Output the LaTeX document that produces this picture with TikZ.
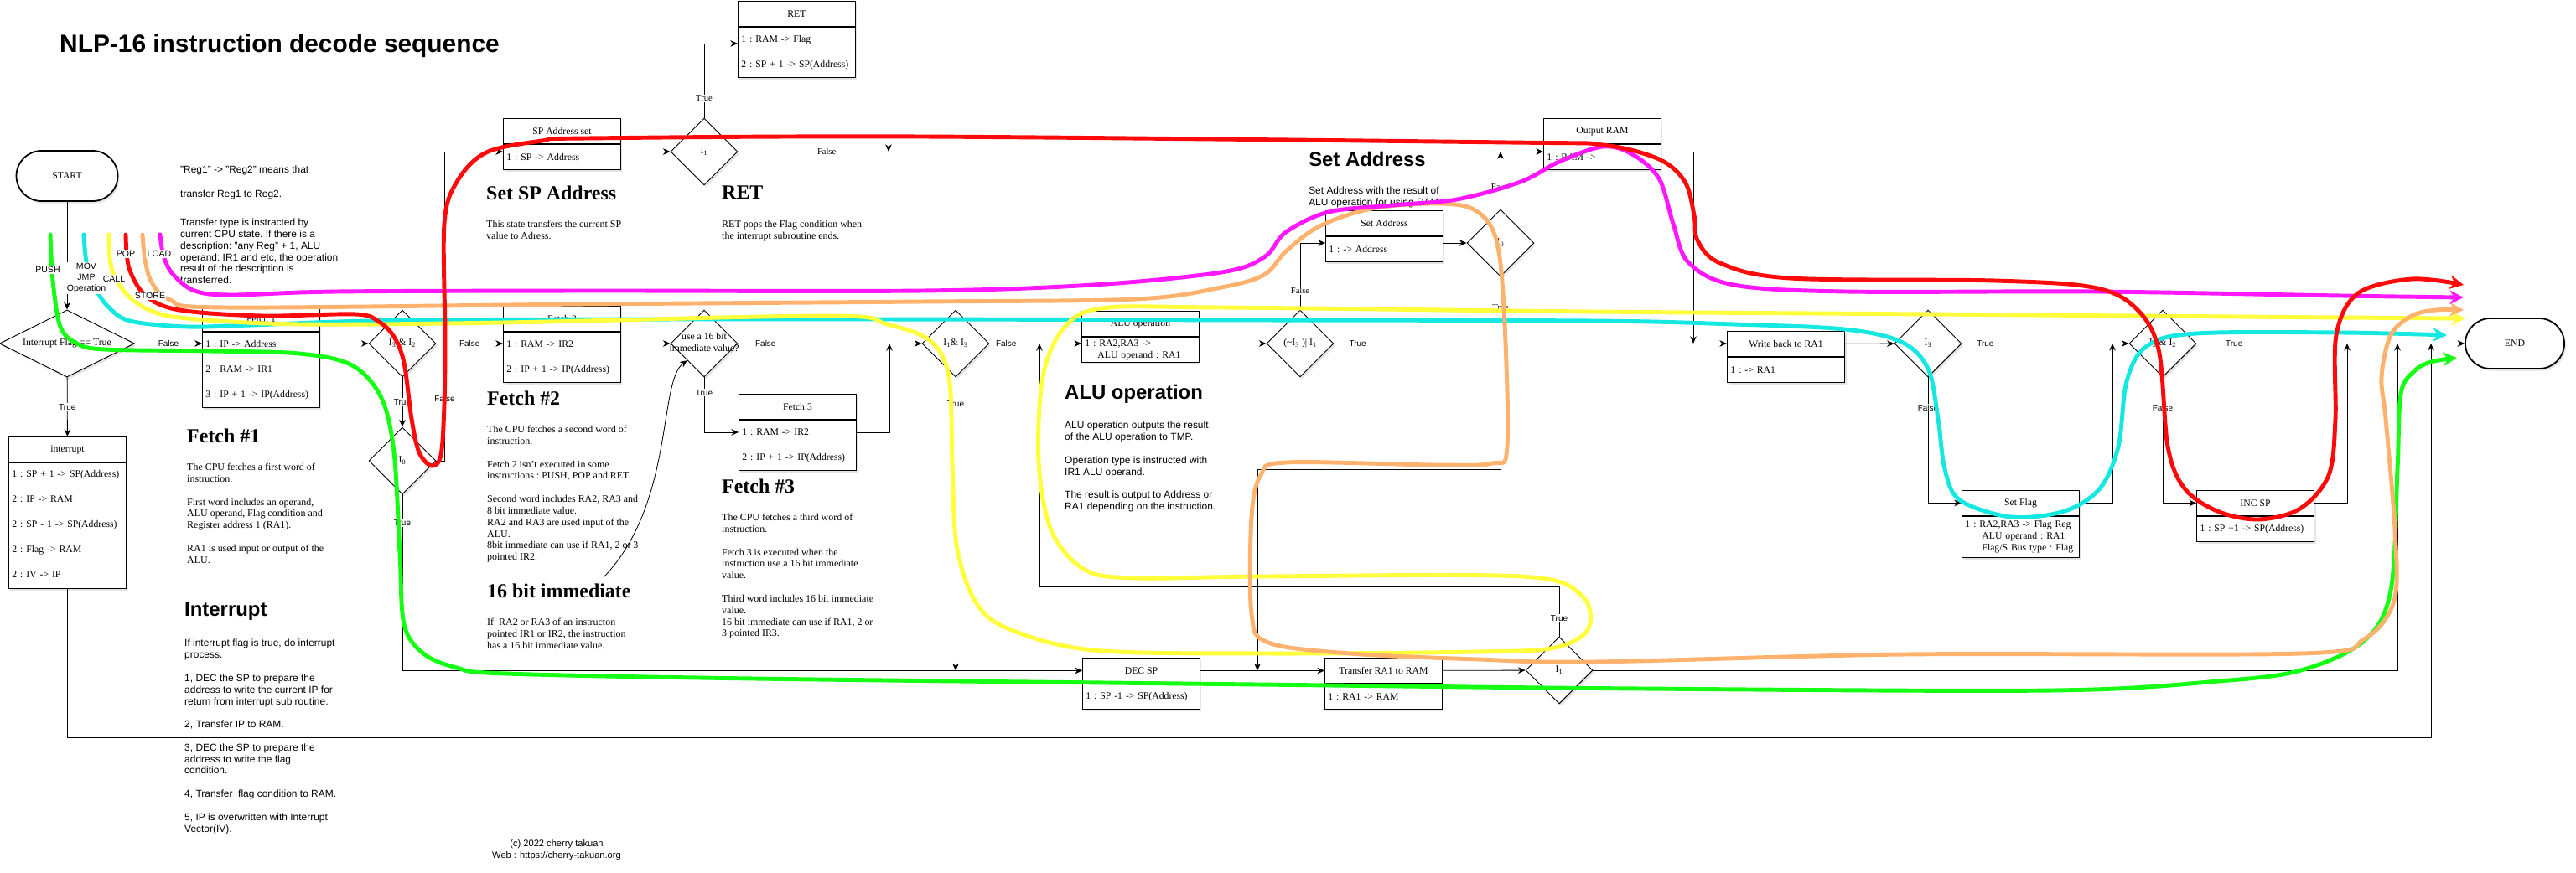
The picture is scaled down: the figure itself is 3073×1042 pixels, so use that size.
\documentclass[tikz,border=0pt]{standalone}
\usepackage{fontspec}
\setmainfont{Liberation Serif}
\setsansfont{Liberation Sans}
\usetikzlibrary{arrows.meta,positioning,calc,shapes.geometric,shadows}
\definecolor{pushc}{HTML}{14FF14}
\definecolor{movc}{HTML}{14E8E0}
\definecolor{callc}{HTML}{FFFF3C}
\definecolor{popc}{HTML}{FF0A0A}
\definecolor{storec}{HTML}{FFB26E}
\definecolor{loadc}{HTML}{FF18FF}
\newcommand{\boxfont}{\fontsize{10}{12}\selectfont\frenchspacing}
\newcommand{\rowfont}{\fontsize{10}{25.6}\selectfont\frenchspacing}
\newcommand{\bodyfont}{\fontsize{10.2}{11.8}\selectfont\frenchspacing}
\newcommand{\headfont}{\fontsize{20.4}{24}\selectfont\bfseries}
\newcommand{\dt}[1]{\makebox[0pt]{#1}}
\newcommand{\sub}[1]{\textsubscript{#1}}
\tikzset{
  shad/.style={drop shadow={opacity=0.22, shadow xshift=0.06cm, shadow yshift=-0.08cm}},
  lanehead/.style={draw, fill=white, line width=0.8pt, minimum width=4.2cm,
                   minimum height=0.9cm, inner sep=0pt, font=\boxfont, shad},
  lanebody/.style={draw, fill=white, line width=0.8pt, text width=3.96cm,
                   minimum height=#1, inner xsep=0.12cm, inner ysep=0pt,
                   align=left, font=\rowfont, shad},
  lanebody/.default=0.9cm,
  dia/.style={diamond, draw, fill=white, line width=0.8pt, inner sep=0pt,
              minimum width=2.4cm, minimum height=2.4cm, font=\boxfont, shad},
  term/.style={draw, fill=white, line width=1.5pt, rounded corners=0.9cm,
               minimum height=1.8cm, font=\boxfont, shad},
  arr/.style={-{Stealth[length=2.6mm, width=2.3mm]}, line width=0.7pt},
  lbl/.style={fill=white, inner sep=1pt, font=\sffamily\fontsize{8.5}{10}\selectfont},
  slbl/.style={fill=white, inner sep=1pt, font=\fontsize{9}{10}\selectfont},
  notetxt/.style={anchor=north west, inner sep=0pt, align=left, font=\bodyfont},
  snotetxt/.style={notetxt, font=\sffamily\bodyfont},
  headtxt/.style={anchor=west, inner sep=0pt, font=\headfont},
  sheadtxt/.style={headtxt, font=\sffamily\headfont},
  hlpath/.style={line width=4.2pt, line cap=round, line join=round,
                 -{Stealth[length=5mm, width=5mm]}},
  clbl/.style={fill=white, inner sep=1pt, align=center,
               font=\sffamily\fontsize{9}{11}\selectfont}}

\begin{document}
\begin{tikzpicture}[x=0.03cm, y=-0.03cm]
\useasboundingbox (0,0) rectangle (3073,1042);

% title and notes
\node[anchor=west, inner sep=0pt, font=\sffamily\bfseries\fontsize{25.5}{30}\selectfont]
  (title) at (71,55) {NLP-16 instruction decode sequence};
\node[snotetxt] (regnote) at (215,198) {"Reg1" -> "Reg2" means that\\[12.5pt]
  transfer Reg1 to Reg2.\\[17.5pt]
  Transfer type is instracted by\\
  current CPU state. If there is a\\
  description: "any Reg" + 1, ALU\\
  operand: IR1 and etc, the operation\\
  result of the description is\\
  transferred.};

\node[headtxt] (hSetSP) at (580,230) {Set SP Address};
\node[notetxt] (tSetSP) at (580,263) {This state transfers the current SP\\value to Adress.};
\node[headtxt] (hRet) at (861,230) {RET};
\node[notetxt] (tRet) at (861,263) {RET pops the Flag condition when\\the interrupt subroutine ends.};

\node[headtxt] (hFetA) at (223,520) {Fetch \#1};
\node[notetxt] (tFetA) at (223,553) {The CPU fetches a first word of\\
  instruction.\\[11.8pt]
  First word includes an operand,\\
  ALU operand, Flag condition and\\
  Register address 1 (RA1).\\[11.8pt]
  RA1 is used input or output of the\\
  ALU.};

\node[headtxt] (hFetB) at (581,475) {Fetch \#2};
\node[notetxt] (tFetB) at (581,508) {The CPU fetches a second word of\\
  instruction.\\[11.8pt]
  Fetch 2 isn't executed in some\\
  instructions : PUSH, POP and RET.\\[11.8pt]
  Second word includes RA2, RA3 and\\
  8 bit immediate value.\\
  RA2 and RA3 are used input of the\\
  ALU.\\
  8bit immediate can use if RA1, 2 or 3\\
  pointed IR2.};

\node[headtxt] (immh) at (581,705) {16 bit immediate};
\node[notetxt] (tImm) at (581,738) {If~ RA2 or RA3 of an instructon\\
  pointed IR1 or IR2, the instruction\\
  has a 16 bit immediate value.};

\node[headtxt] (hFetC) at (861,580) {Fetch \#3};
\node[notetxt] (tFetC) at (861,613) {The CPU fetches a third word of\\
  instruction.\\[11.8pt]
  Fetch 3 is executed when the\\
  instruction use a 16 bit immediate\\
  value.\\[11.8pt]
  Third word includes 16 bit immediate\\
  value.\\
  16 bit immediate can use if RA1, 2 or\\
  3 pointed IR3.};

\node[sheadtxt] (hAlu) at (1270,470) {ALU operation};
\node[snotetxt] (tAlu) at (1270,503) {ALU operation outputs the result\\
  of the ALU operation to TMP.\\[11.8pt]
  Operation type is instructed with\\
  IR1 ALU operand.\\[11.8pt]
  The result is output to Address or\\
  RA1 depending on the instruction.};

\node[sheadtxt] (hSetA) at (1561,190) {Set Address};
\node[snotetxt] (tSetA) at (1561,223) {Set Address with the result of\\ALU operation for using RAM.};

\node[sheadtxt] (hIntr) at (220,730) {Interrupt};
\node[snotetxt] (tIntr) at (220,763) {If interrupt flag is true, do interrupt\\
  process.\\[11.8pt]
  1, DEC the SP to prepare the\\
  address to write the current IP for\\
  return from interrupt sub routine.\\[11.8pt]
  2, Transfer IP to RAM.\\[11.8pt]
  3, DEC the SP to prepare the\\
  address to write the flag\\
  condition.\\[11.8pt]
  4, Transfer~ flag condition to RAM.\\[11.8pt]
  5, IP is overwritten with Interrupt\\
  Vector(IV).};

\node[anchor=north, align=center, inner sep=0pt, font=\sffamily\fontsize{9.5}{12.5}\selectfont]
  (credit) at (664,1002) {(c) 2022 cherry takuan\\Web : https://cherry-takuan.org};

% terminators and decisions
\node[term, minimum width=3.63cm] (start) at (80,210) {START};
\node[term, minimum width=3.54cm] (endn) at (3000,410) {END};

\node[dia, minimum width=4.83cm] (intf) at (80,410) {\dt{Interrupt Flag == True}};
\node[dia] (d32) at (480,410) {\dt{I\sub{3} \& I\sub{2}}};
\node[dia] (d0) at (480,550) {\dt{I\sub{0}}};
\node[dia] (d16) at (840,410) {\dt{\begin{tabular}{@{}c@{}}use a 16 bit\\immediate value?\end{tabular}}};
\node[dia] (d13) at (1140,410) {\dt{I\sub{1}\& I\sub{3}}};
\node[dia] (dnot) at (1551,410) {\dt{(\textasciitilde I\sub{3} )| I\sub{1}}};
\node[dia] (d1) at (840,181) {\dt{I\sub{1}}};
\node[dia] (d0b) at (1790,290) {\dt{I\sub{0}}};
\node[dia] (d1b) at (1860,800) {\dt{I\sub{1}}};
\node[dia] (d3) at (2300,410) {\dt{I\sub{3}}};
\node[dia] (d32b) at (2580,410) {\dt{I\sub{3} \& I\sub{2}}};

% state boxes
\node[lanehead, anchor=north west] (intrh) at (10,521) {interrupt};
\node[lanebody=4.5cm, text height=7pt, text depth=105.4pt, below=0pt of intrh] (intr)
  {1 : SP + 1 -> SP(Address)\\2 : IP -> RAM\\
  2 : SP - 1 -> SP(Address)\\2 : Flag -> RAM\\2 : IV -> IP};
\node[lanehead, anchor=north west] (fetAh) at (241,365) {Fetch 1};
\node[lanebody=2.7cm, below=0pt of fetAh] (fetA) {1 : IP -> Address\\2 : RAM -> IR1\\3 : IP + 1 -> IP(Address)};
\node[lanehead, anchor=north west] (fetBh) at (600,365) {Fetch 2};
\node[lanebody=1.8cm, below=0pt of fetBh] (fetB) {1 : RAM -> IR2\\2 : IP + 1 -> IP(Address)};
\node[lanehead, anchor=north west] (fetCh) at (881,470) {Fetch 3};
\node[lanebody=1.8cm, below=0pt of fetCh] (fetC) {1 : RAM -> IR2\\2 : IP + 1 -> IP(Address)};
\node[lanehead, anchor=north west] (spah) at (600,141) {SP Address set};
\node[lanebody, below=0pt of spah] (spa) {1 : SP -> Address};
\node[lanehead, anchor=north west] (reth) at (880,1) {RET};
\node[lanebody=1.8cm, below=0pt of reth] (ret) {1 : RAM -> Flag\\2 : SP + 1 -> SP(Address)};
\node[lanehead, anchor=north west] (outh) at (1841,141) {Output RAM};
\node[lanebody, below=0pt of outh] (out) {1 : RAM ->};
\node[lanehead, anchor=north west] (setah) at (1581,251) {Set Address};
\node[lanebody, below=0pt of setah] (seta) {1 : -> Address};
\node[lanehead, anchor=north west] (aluh) at (1290,371) {ALU operation};
\node[lanebody, font=\boxfont, below=0pt of aluh] (alu) {1 : RA2,RA3 ->\\\hspace*{0.45cm}ALU operand : RA1};
\node[lanehead, anchor=north west] (wbh) at (2060,395) {Write back to RA1};
\node[lanebody, below=0pt of wbh] (wb) {1 : -> RA1};
\node[lanehead, anchor=north west] (sfh) at (2340,585) {Set Flag};
\node[lanebody=1.47cm, font=\boxfont, below=0pt of sfh] (sf) {1 : RA2,RA3 -> Flag Reg\\
  \hspace*{0.6cm}ALU operand : RA1\\\hspace*{0.6cm}Flag/S Bus type : Flag};
\node[lanehead, anchor=north west] (inch) at (2620,585) {INC SP};
\node[lanebody, below=0pt of inch] (inc) {1 : SP +1 -> SP(Address)};
\node[lanehead, anchor=north west] (dech) at (1291,785) {DEC SP};
\node[lanebody, below=0pt of dech] (dec) {1 : SP -1 -> SP(Address)};
\node[lanehead, anchor=north west] (trh) at (1580,785) {Transfer RA1 to RAM};
\node[lanebody, below=0pt of trh] (tr) {1 : RA1 -> RAM};

% join points
\coordinate (f3Join) at (1061,410);
\coordinate (aluLoop) at (1240,700);
\coordinate (loopA) at (1500,560);
\coordinate (retJoin) at (1060,181);
\coordinate (outJoin) at (2020,410);
\coordinate (sfJoin) at (2520,410);
\coordinate (incJoin) at (2800,410);
\coordinate (j2860) at (2860,410);
\coordinate (botC) at (2900,880);
\coordinate (intJoin) at (2900,410);

% connectors
\draw[arr] (start) -- (intf);
\draw[arr] (intf) -- node[lbl]{True} (intrh);
\draw[arr] (intf.east) -- node[lbl]{False} (intf.east -| fetA.west);
\draw[arr] (fetA.east |- intf.east) -- (d32);
\draw[arr] (d32) -- node[lbl]{False} (d32.east -| fetB.west);
\draw[arr] (d32) -- node[lbl]{True} (d0);
\draw[arr] (d0.east) -- ++(10,0) |- node[lbl,pos=0.1]{False} (spa.west |- d1.west);
\draw[arr] (d0) |- node[lbl,pos=0.08]{True} (dech);
\draw[arr] (dech) -- (trh);
\draw[arr] (trh) -- (d1b);
\draw[arr] (d1b) -| (j2860);
\draw[arr] (d1b) |- node[lbl,pos=0.18]{True} (aluLoop) -- (aluLoop |- d13.east);
\draw[arr] (fetB.east |- d32.east) -- (d16);
\draw[arr] (d16) -- node[lbl,pos=0.15]{False} (d13);
\draw[arr] (d16) |- node[lbl,pos=0.14]{True} ($(fetC.north west)+(0,15)$);
\draw[arr] ($(fetC.north east)+(0,15)$) -| (f3Join);
\draw[arr] ($(immh.north east)+(-32,-8)$) .. controls (805,600) and (785,455) .. (d16.south west);
\draw[arr] (d13) -- node[lbl,pos=0.18]{False} (d13.east -| alu.west);
\draw[arr] (d13) -- node[lbl,pos=0.09]{True} (d13 |- dech);
\draw[arr] (alu.east |- d13.east) -- (dnot);
\draw[arr] (dnot) -- node[lbl,pos=0.06]{True} (dnot -| wbh.west);
\draw[arr] (dnot) |- node[slbl,pos=0.14]{False} (seta.west |- d0b.west);
\draw[arr] (seta.east |- d0b.west) -- (d0b);
\draw[arr] (d0b) -- node[slbl,pos=0.39]{False} (d0b |- d1.east);
\draw[arr] (d0b) |- node[slbl,pos=0.08]{True} (loopA) -- (loopA |- trh.west);
\draw[arr] (spa.east |- d1.west) -- (d1);
\draw[arr] (d1) |- node[slbl,pos=0.13]{True} ($(ret.north west)+(0,20)$);
\draw[arr] ($(ret.north east)+(0,20)$) -| (retJoin);
\draw[arr] (d1) -- node[slbl,pos=0.11]{False} (d1 -| out.west);
\draw[arr] (out.east |- d1.east) -| (outJoin);
\draw[arr] (wbh) -- (d3);
\draw[arr] (d3) -- node[lbl,pos=0.14]{True} (d32b);
\draw[arr] (d3) |- node[lbl,pos=0.12]{False} (sfh);
\draw[arr] (sfh) -| (sfJoin);
\draw[arr] (d32b) -- node[lbl,pos=0.14]{True} (endn);
\draw[arr] (d32b) |- node[lbl,pos=0.12]{False} (inch);
\draw[arr] (inch) -| (incJoin);
\draw[arr] (intr) |- (botC) -- (intJoin);

% instruction paths
\draw[hlpath, pushc] plot[smooth, tension=0.55] coordinates {(60,280) (63,335) (72,390) (92,410)
  (125,417) (250,419) (357,422) (420,436) (455,475) (470,540) (477,660) (482,745) (505,780)
  (545,797) (603,804) (900,810) (1500,817) (1960,822) (2450,824) (2647,813) (2745,800)
  (2820,765) (2852,705) (2860,560) (2864,470) (2880,443) (2900,432) (2931,427)};
\draw[hlpath, movc] plot[smooth, tension=0.55] coordinates {(100,280) (103,312) (113,342)
  (128,365) (155,383) (223,390) (300,388) (500,382) (1000,381) (1500,382) (1900,383)
  (2068,387) (2200,393) (2268,408) (2300,440) (2312,500) (2320,560) (2338,597) (2399,617)
  (2463,610) (2505,583) (2527,533) (2537,455) (2561,413) (2620,398) (2793,397) (2919,400)};
\draw[hlpath, callc] plot[smooth, tension=0.55] coordinates {(130,280) (133,320) (150,350)
  (178,370) (223,380) (357,387) (600,385) (990,377) (1058,387) (1110,407) (1132,450)
  (1136,550) (1141,650) (1163,717) (1202,750) (1304,776) (1508,780) (1763,778) (1855,773)
  (1895,750) (1886,710) (1814,688) (1508,688) (1355,690) (1294,680) (1254,633) (1239,550)
  (1244,450) (1268,393) (1314,368) (1457,367) (1900,372) (2300,375) (2793,379) (2941,380)};
\draw[hlpath, storec] plot[smooth, tension=0.55] coordinates {(170,280) (173,310) (181,337)
  (203,358) (268,367) (700,363) (1100,360) (1355,357) (1457,343) (1508,328) (1534,300)
  (1574,270) (1636,249) (1712,243) (1758,250) (1784,283) (1794,367) (1798,533) (1780,553)
  (1712,555) (1534,552) (1504,567) (1493,617) (1493,733) (1513,767) (1610,780) (1763,787)
  (1900,790) (2274,781) (2745,780) (2820,763) (2856,717) (2857,633) (2846,500) (2841,450)
  (2852,400) (2877,377) (2906,370) (2939,370)};
\draw[hlpath, loadc] plot[smooth, tension=0.55] coordinates {(191,280) (195,305) (206,327)
  (232,347) (277,352) (402,348) (700,347) (1100,347) (1304,340) (1457,325) (1508,307)
  (1534,277) (1585,253) (1661,245) (1738,238) (1814,217) (1860,193) (1912,175) (1947,184)
  (1979,213) (1996,267) (2014,313) (2068,340) (2202,348) (2500,348) (2793,353) (2939,355)};
\draw[hlpath, popc] plot[smooth, tension=0.55] coordinates {(150,280) (154,320) (174,353)
  (214,370) (313,377) (424,375) (452,384) (470,402) (482,433) (491,500) (500,540) (515,556)
  (526,543) (530,483) (531,400) (530,267) (545,217) (580,182) (647,168) (700,165) (1100,163)
  (1800,170) (1912,173) (1979,190) (2010,217) (2021,257) (2025,287) (2052,314) (2135,332)
  (2380,335) (2497,343) (2547,367) (2575,417) (2586,533) (2606,583) (2645,610) (2694,620)
  (2744,607) (2778,567) (2786,500) (2787,400) (2813,350) (2877,333) (2939,340)};

\node[clbl] (lbPush) at (57,322) {PUSH};
\node[clbl] (lbMov) at (103,332) {MOV\\JMP\\Operation};
\node[clbl] (lbCall) at (136,333) {CALL};
\node[clbl] (lbPop) at (150,303) {POP};
\node[clbl] (lbLoad) at (190,303) {LOAD};
\node[clbl] (lbStore) at (179,353) {STORE};
\end{tikzpicture}
\end{document}
